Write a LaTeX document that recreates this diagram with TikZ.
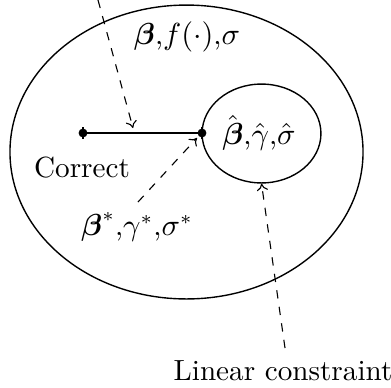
\documentclass[tikz,border=0pt]{standalone}
\usepackage{amsmath,amssymb}
\usetikzlibrary{shapes.geometric,arrows.meta}
\begin{document}
\begin{tikzpicture}[x=0.36pt,y=-0.36pt,
  region/.style={draw,ellipse,inner sep=0pt,line width=0.5pt},
  pointer/.style={dashed,thin,-{To[length=2.5pt,width=4pt]}},
  dotnode/.style={circle,fill,inner sep=0pt,minimum size=3.2pt},
  lbl/.style={inner sep=1pt,font=\fontsize{10.5}{12}\selectfont}]
\useasboundingbox (0,0) rectangle (391,387);
\node[region,minimum width=127.1pt,minimum height=105.8pt] (outer) at (186.5,152) {};
\node[region,minimum width=42.8pt,minimum height=35.6pt] (inner) at (261.5,133.5) {};
\node[dotnode] (p1) at (83,133) {};
\node[dotnode] (p2) at (202,133) {};
\draw[line width=0.8pt] (p1.center) -- (p2.center);
\draw[line width=0.7pt] ([yshift=2.1pt]p1.center) -- ([yshift=-2.1pt]p1.center);
\draw[line width=0.7pt] ([yshift=2.1pt]p2.center) -- ([yshift=-2.1pt]p2.center);
\node[lbl] (toplbl) at (187,37) {$\boldsymbol{\beta}$,$f(\cdot)$,$\sigma$};
\node[lbl] (hatlbl) at (259,133) {$\hat{\boldsymbol{\beta}}$,$\hat{\gamma}$,$\hat{\sigma}$};
\node[lbl] (correct) at (82,168) {Correct};
\node[lbl] (star) at (137,227) {$\boldsymbol{\beta}^{*}$,$\gamma^{*}$,$\sigma^{*}$};
\node[lbl] (linear) at (283,371) {Linear constraint};
\coordinate (topstart) at (98,0);
\coordinate (topend) at (133,128);
\coordinate (starstart) at (138,202);
\coordinate (starend) at (197,138);
\coordinate (linstart) at (285,348);
\draw[pointer] (topstart) -- (topend);
\draw[pointer] (starstart) -- (starend);
\draw[pointer] (linstart) -- (inner.south);
\end{tikzpicture}
\end{document}
